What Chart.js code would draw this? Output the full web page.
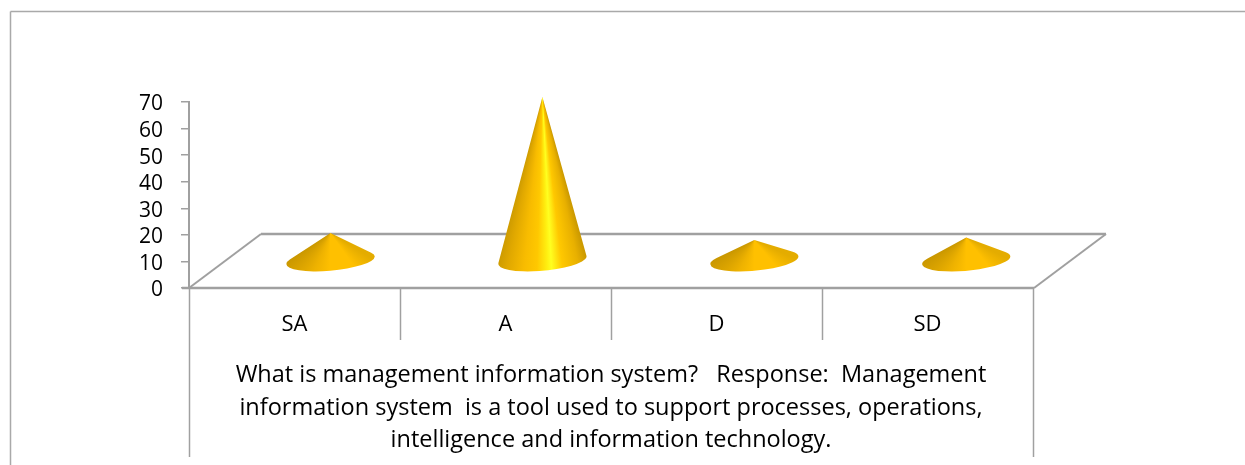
<!DOCTYPE html>
<html>
<head>
<meta charset="utf-8">
<script src="https://cdn.jsdelivr.net/npm/chart.js@4"></script>
<style>
  html, body { margin: 0; padding: 0; background: #fff; overflow: hidden; }
  #wrap { width: 1245px; height: 465px; position: relative; }
</style>
</head>
<body>
<div id="wrap"><canvas id="chart"></canvas></div>
<script>
const categories = ["SA", "A", "D", "SD"];
const responses = [10.5, 61.7, 7.9, 8.8];
const yTicks = [0, 10, 20, 30, 40, 50, 60, 70];
const axisTitle = [
  "What is management information system?   Response:  Management",
  "information system  is a tool used to support processes, operations,",
  "intelligence and information technology."
];

const axisGrey = "#a0a0a0";
const fontName = "'Open Sans', Lato, sans-serif";
// how far the floor runs backwards on the page
const depthX = 72;
const depthY = 54;

const tallStops = [[0, "#cc9a00"], [0.12, "#e0a800"], [0.3, "#f8bc00"], [0.44, "#ffc800"], [0.55, "#ffee10"], [0.6, "#ffff20"], [0.72, "#ffc800"], [0.9, "#e8b000"], [1, "#cc9a00"]];
const flatStops = [[0, "#c89600"], [0.3, "#eeb200"], [0.5, "#ffc000"], [0.8, "#ffc000"], [1, "#e4ac00"]];

function line(ctx, x1, y1, x2, y2, width, color) {
  ctx.beginPath();
  ctx.moveTo(x1, y1);
  ctx.lineTo(x2, y2);
  ctx.lineWidth = width;
  ctx.strokeStyle = color;
  ctx.stroke();
}

const framePlugin = {
  id: "frame",
  beforeDraw(chart) {
    const { ctx, width, height, scales: { x, y } } = chart;
    const y0 = y.getPixelForValue(0);
    ctx.save();
    // outer chart border, only top and left are in the picture
    line(ctx, 10.5, 11.5, width, 11.5, 1.5, "#a9a9a9");
    line(ctx, 10.5, 11.5, 10.5, height, 1.5, "#a9a9a9");

    // floor
    line(ctx, x.left + depthX, y0 - depthY, x.right + depthX + 1, y0 - depthY, 2.5, axisGrey);
    line(ctx, x.left, y0, x.left + depthX, y0 - depthY, 2, axisGrey);
    line(ctx, x.right + 1, y0, x.right + depthX + 1, y0 - depthY, 2, axisGrey);
    line(ctx, x.left - 7, y0, x.right + 1, y0, 2.5, axisGrey);

    // category separators, the outer two run down past the title
    const step = (x.right - x.left) / categories.length;
    for (let i = 0; i <= categories.length; i++) {
      const px = x.left + step * i + 0.5;
      const end = (i === 0 || i === categories.length) ? 457 : 340;
      line(ctx, px, y0, px, end, 1.5, axisGrey);
    }
    ctx.restore();
  },
  afterDatasetsDraw(chart) {
    const { ctx } = chart;
    const bars = chart.getDatasetMeta(0).data;
    ctx.save();
    bars.forEach((bar, i) => {
      // back of the floor is a bit wider than the front
      const cx = bar.x + depthX / 2 + i * 0.9;
      const cy = bar.base - depthY / 2;
      const tipY = bar.y - depthY / 2;
      const rx = bar.width / 2;
      const ry = 10.5;
      const rot = -0.09;
      const stops = cy - tipY > 60 ? tallStops : flatStops;

      // shade fans out from the tip, with some slack past the right side
      const slack = 0.4;
      const angR = Math.atan2(cy - tipY, rx);
      const angL = Math.atan2(cy - tipY, -rx);
      const span = (angL - angR) / (Math.PI * 2);
      const grad = ctx.createConicGradient(angR - slack, cx, tipY);
      stops.slice().reverse().forEach(([s, c]) => {
        grad.addColorStop(slack / (Math.PI * 2) + (1 - s) * span, c);
      });

      // sides touch the base ellipse where they are tangent to it
      const dy = tipY - cy;
      const ux = (dy * Math.sin(rot)) / rx;
      const uy = (dy * Math.cos(rot)) / ry;
      const dir = Math.atan2(uy, ux);
      const off = Math.acos(1 / Math.hypot(ux, uy));

      ctx.beginPath();
      ctx.moveTo(cx, tipY);
      ctx.ellipse(cx, cy, rx, ry, rot, dir - off, dir + off, true);
      ctx.closePath();
      ctx.fillStyle = grad;
      ctx.fill();
    });
    ctx.restore();
  }
};

new Chart(document.getElementById("chart"), {
  type: "bar",
  data: {
    labels: categories,
    datasets: [{
      data: responses,
      backgroundColor: "rgba(0,0,0,0)",
      barPercentage: 0.42,
      categoryPercentage: 1
    }]
  },
  options: {
    animation: false,
    responsive: true,
    maintainAspectRatio: false,
    layout: { padding: { top: 102, right: 212, bottom: 8, left: 0 } },
    plugins: { legend: { display: false }, tooltip: { enabled: false } },
    scales: {
      x: {
        afterFit: (s) => { s.height = 169; },
        grid: { display: false, drawTicks: false },
        border: { display: false },
        ticks: { color: "#000", padding: 24, font: { family: fontName, size: 22 } },
        title: {
          display: true,
          text: axisTitle,
          color: "#000",
          padding: { top: 0, bottom: 0 },
          font: { family: fontName, size: 23.5, lineHeight: 1.39 }
        }
      },
      y: {
        min: 0,
        max: 70,
        afterFit: (s) => { s.width = 189; },
        afterBuildTicks: (s) => { s.ticks = yTicks.map((v) => ({ value: v })); },
        grid: { drawOnChartArea: false, tickLength: 8, color: axisGrey, lineWidth: 1.5 },
        border: { color: axisGrey, width: 2 },
        ticks: { color: "#000", padding: 18, autoSkip: false, labelOffset: 2.5, font: { family: fontName, size: 21 } }
      }
    }
  },
  plugins: [framePlugin]
});
</script>
</body>
</html>
